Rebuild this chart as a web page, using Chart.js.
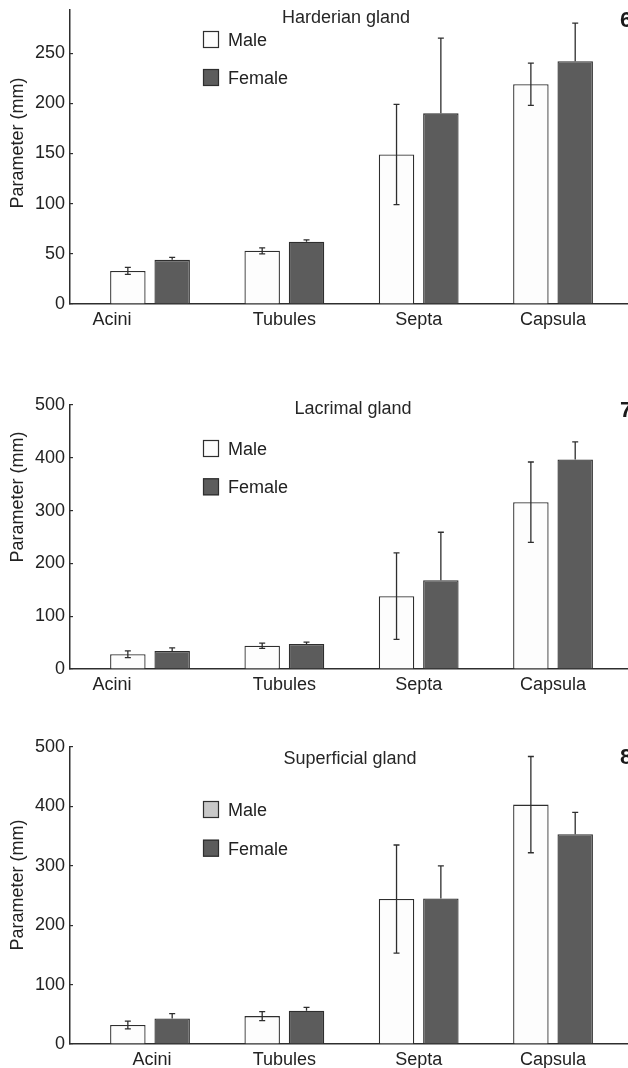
<!DOCTYPE html>
<html><head><meta charset="utf-8">
<script src="https://cdn.jsdelivr.net/npm/chart.js@4.4.1/dist/chart.umd.min.js"></script>
<style>
html,body{margin:0;padding:0;background:#fff;width:628px;height:1068px;overflow:hidden;position:relative;font-family:"Liberation Sans",Arial,sans-serif;}
canvas{position:absolute;left:0;}
.t{position:absolute;font-size:18px;line-height:18px;color:#262626;white-space:nowrap;transform:translateX(-50%);}
.n{position:absolute;font-size:22px;line-height:22px;font-weight:bold;color:#1a1a1a;white-space:nowrap;}
</style></head><body>
<canvas id="c1" width="628" height="340" style="top:0px"></canvas>
<canvas id="c2" width="628" height="310" style="top:390px"></canvas>
<canvas id="c3" width="628" height="333" style="top:735px"></canvas>
<div class="t" style="left:346px;top:8px">Harderian gland</div>
<div class="t" style="left:353px;top:399px">Lacrimal gland</div>
<div class="t" style="left:350px;top:749px">Superficial gland</div>
<div class="n" style="left:620px;top:9px">6</div>
<div class="n" style="left:620px;top:399px">7</div>
<div class="n" style="left:620px;top:746px">8</div>
<script>
// ---- data ----
const CATEGORIES = ['Acini', 'Tubules', 'Septa', 'Capsula'];
const SERIES = ['Male', 'Female'];
const Y_TITLE = 'Parameter (mm)';

const HARDERIAN_MALE = [33, 53, 149, 219];
const HARDERIAN_MALE_ERR = [3.5, 3, 50, 21];
const HARDERIAN_FEMALE = [44, 62, 190, 242];
const HARDERIAN_FEMALE_ERR = [2.5, 2, 75, 38];
const HARDERIAN_TICKS = [0, 50, 100, 150, 200, 250];

const LACRIMAL_MALE = [28, 44, 138, 316];
const LACRIMAL_MALE_ERR = [6.5, 5, 82, 76];
const LACRIMAL_FEMALE = [34, 47.5, 168, 397];
const LACRIMAL_FEMALE_ERR = [6, 3.5, 91, 33];
const LACRIMAL_TICKS = [0, 100, 200, 300, 400, 500];

const SUPERFICIAL_MALE = [32, 47, 244, 403];
const SUPERFICIAL_MALE_ERR = [6.5, 7.5, 91, 81];
const SUPERFICIAL_FEMALE = [43, 56, 245, 353];
const SUPERFICIAL_FEMALE_ERR = [8, 5.5, 55, 37];
const SUPERFICIAL_TICKS = [0, 100, 200, 300, 400, 500];

// ---- styling ----
const FONT = '"Liberation Sans", Arial, sans-serif';
const INK = '#222222';
const EDGE = '#2e2e2e';
Chart.defaults.font.family = FONT;

const errorBars = {
  id: 'errorBars',
  afterDatasetsDraw(chart) {
    const ctx = chart.ctx, y = chart.scales.y;
    chart.data.datasets.forEach((ds, di) => {
      const meta = chart.getDatasetMeta(di);
      meta.data.forEach((bar, j) => {
        const v = ds.data[j].y, e = ds.errors[j];
        const top = y.getPixelForValue(v + e);
        const bot = ds.upperOnly ? y.getPixelForValue(v) : y.getPixelForValue(v - e);
        ctx.save();
        ctx.strokeStyle = EDGE; ctx.lineWidth = 1.3;
        ctx.beginPath();
        ctx.moveTo(bar.x, top); ctx.lineTo(bar.x, bot);
        ctx.moveTo(bar.x - 3, top); ctx.lineTo(bar.x + 3, top);
        if (!ds.upperOnly) { ctx.moveTo(bar.x - 3, bot); ctx.lineTo(bar.x + 3, bot); }
        ctx.stroke();
        ctx.restore();
      });
    });
  }
};

const xLabels = {
  id: 'xLabels',
  afterDraw(chart, args, o) {
    const x = chart.scales.x, ctx = chart.ctx;
    ctx.save();
    ctx.font = '18px ' + FONT; ctx.fillStyle = INK;
    ctx.textAlign = 'center'; ctx.textBaseline = 'alphabetic';
    o.labels.forEach((l, i) => {
      ctx.fillText(l, x.getPixelForValue(i) + (o.shift[i] || 0), chart.chartArea.bottom + 21);
    });
    ctx.restore();
  }
};

const sexLegend = {
  id: 'sexLegend',
  afterDraw(chart, args, o) {
    const ctx = chart.ctx;
    ctx.save();
    ctx.font = '18px ' + FONT;
    chart.data.datasets.forEach((ds, i) => {
      const b = o.baseline + i * o.gap;
      ctx.fillStyle = o.swatch[i];
      ctx.fillRect(o.x, b - 15, 16, 17);
      ctx.strokeStyle = EDGE; ctx.lineWidth = 1.2;
      ctx.strokeRect(o.x + 0.5, b - 14.5, 15, 16);
      ctx.fillStyle = INK; ctx.textAlign = 'left'; ctx.textBaseline = 'alphabetic';
      ctx.fillText(ds.label, o.x + 25, b);
    });
    ctx.restore();
  }
};

const yTitle = {
  id: 'yTitle',
  afterDraw(chart, args, o) {
    const ctx = chart.ctx;
    ctx.save();
    ctx.font = '18px ' + FONT; ctx.fillStyle = INK;
    ctx.translate(o.cx, o.cy); ctx.rotate(-Math.PI / 2);
    ctx.textAlign = 'center'; ctx.textBaseline = 'middle';
    ctx.fillText(o.text, 0, 0);
    ctx.restore();
  }
};

function makePanel(id, cfg) {
  const mk = arr => CATEGORIES.map((c, i) => ({ x: i, y: arr[i] }));
  new Chart(document.getElementById(id), {
    type: 'bar',
    data: {
      datasets: [
        { label: SERIES[0], data: mk(cfg.male), errors: cfg.maleErr, upperOnly: false,
          backgroundColor: '#fdfdfd', borderColor: EDGE, borderWidth: 1.3,
          categoryPercentage: 0.66, barPercentage: 0.8 },
        { label: SERIES[1], data: mk(cfg.female), errors: cfg.femaleErr, upperOnly: true,
          backgroundColor: '#5c5c5c', borderColor: EDGE, borderWidth: 1.3,
          categoryPercentage: 0.66, barPercentage: 0.8 }
      ]
    },
    options: {
      responsive: false, animation: false, devicePixelRatio: 1,
      layout: { padding: { top: cfg.padTop, left: 0, right: 0, bottom: 0 } },
      scales: {
        x: {
          type: 'linear', min: -0.5956, max: 3.558, offset: false,
          afterBuildTicks: s => { s.ticks = CATEGORIES.map((c, i) => ({ value: i })); },
          afterFit: s => { s.height = cfg.xHeight; s.paddingLeft = 0; s.paddingRight = 0; },
          grid: { display: true, drawOnChartArea: false, drawTicks: false },
          border: { color: EDGE, width: 1.5 },
          ticks: { display: false }
        },
        y: {
          min: 0, max: cfg.yMax,
          afterBuildTicks: s => { s.ticks = cfg.yTicks.map(v => ({ value: v })); },
          afterFit: s => { s.width = 70; s.paddingTop = 0; s.paddingBottom = 0; },
          grid: { drawOnChartArea: false, drawTicks: true, tickLength: -3, color: EDGE, lineWidth: 1.2 },
          border: { color: EDGE, width: 1.5 },
          ticks: { padding: 8, color: INK, font: { family: FONT, size: 18 } }
        }
      },
      plugins: {
        legend: { display: false },
        tooltip: { enabled: false },
        xLabels: { labels: CATEGORIES, shift: cfg.shift },
        sexLegend: { x: 203, baseline: cfg.legendBaseline, gap: cfg.legendGap, swatch: cfg.swatch },
        yTitle: { text: Y_TITLE, cx: 18, cy: cfg.yTitleCy }
      }
    },
    plugins: [errorBars, xLabels, sexLegend, yTitle]
  });
}

makePanel('c1', {
  male: HARDERIAN_MALE, maleErr: HARDERIAN_MALE_ERR,
  female: HARDERIAN_FEMALE, femaleErr: HARDERIAN_FEMALE_ERR,
  yMax: 293, yTicks: HARDERIAN_TICKS, padTop: 10, xHeight: 36,
  shift: [-38, 0, 0, 0], legendBaseline: 46, legendGap: 38,
  swatch: ['#fdfdfd', '#5c5c5c'], yTitleCy: 143
});
makePanel('c2', {
  male: LACRIMAL_MALE, maleErr: LACRIMAL_MALE_ERR,
  female: LACRIMAL_FEMALE, femaleErr: LACRIMAL_FEMALE_ERR,
  yMax: 500, yTicks: LACRIMAL_TICKS, padTop: 15, xHeight: 31,
  shift: [-38, 0, 0, 0], legendBaseline: 65, legendGap: 38.3,
  swatch: ['#fdfdfd', '#5c5c5c'], yTitleCy: 107
});
makePanel('c3', {
  male: SUPERFICIAL_MALE, maleErr: SUPERFICIAL_MALE_ERR,
  female: SUPERFICIAL_FEMALE, femaleErr: SUPERFICIAL_FEMALE_ERR,
  yMax: 500, yTicks: SUPERFICIAL_TICKS, padTop: 12, xHeight: 24,
  shift: [2, 0, 0, 0], legendBaseline: 81, legendGap: 38.7,
  swatch: ['#c8c8c8', '#5c5c5c'], yTitleCy: 150
});
</script>
</body></html>
